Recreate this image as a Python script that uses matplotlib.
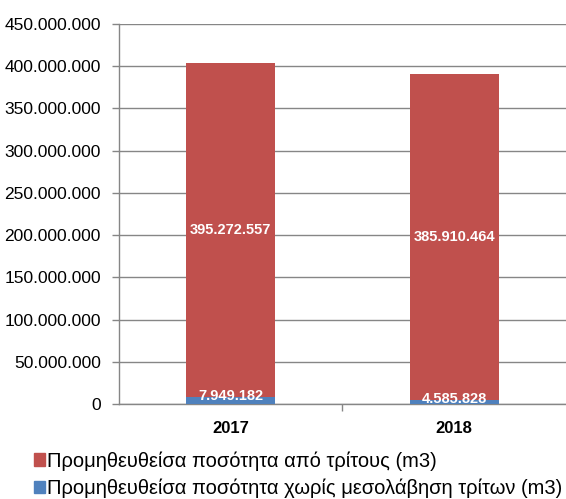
import matplotlib.pyplot as plt
from matplotlib.ticker import FuncFormatter, FixedLocator
from matplotlib.patches import Patch

plt.rcParams['font.family'] = ['Liberation Sans', 'DejaVu Sans']

years = ['2017', '2018']
xoris_mesolavisi = [7949182, 4585828]
apo_tritous = [395272557, 385910464]

label_tritoi = 'Προμηθευθείσα ποσότητα από τρίτους (m3)'
label_xoris = 'Προμηθευθείσα ποσότητα χωρίς μεσολάβηση τρίτων (m3)'

red = '#C0504D'
blue = '#4F81BD'
grid_col = '#868686'

fig = plt.figure(figsize=(5.66, 4.99), dpi=100)
ax = fig.add_axes([0.21, 0.19, 0.79, 0.762])

x = range(len(years))
ax.bar(x, xoris_mesolavisi, width=0.4, color=blue, zorder=3)
ax.bar(x, apo_tritous, width=0.4, bottom=xoris_mesolavisi, color=red, zorder=3)

fmt = lambda v: f'{v:,.0f}'.replace(',', '.')

for i in x:
    ax.annotate(fmt(xoris_mesolavisi[i]), (i, xoris_mesolavisi[i]),
                xytext=(0, -4), textcoords='offset points',
                ha='center', va='bottom', color='white',
                fontsize=10.5, fontweight='bold', zorder=4)
    ax.text(i, xoris_mesolavisi[i] + apo_tritous[i] / 2, fmt(apo_tritous[i]),
            ha='center', va='center', color='white',
            fontsize=10.5, fontweight='bold', zorder=4)

ax.set_ylim(0, 450000000)
ax.set_yticks(range(0, 450000001, 50000000))
ax.yaxis.set_major_formatter(FuncFormatter(lambda v, p: fmt(v)))
ax.set_xlim(-0.5, 1.5)
ax.set_xticks([0, 1])
ax.set_xticklabels(years, fontweight='bold', fontsize=12)
ax.xaxis.set_minor_locator(FixedLocator([0.5]))
ax.tick_params(axis='x', which='major', length=0, pad=12)
ax.tick_params(axis='x', which='minor', length=5, color=grid_col, width=1)
ax.tick_params(axis='y', length=5, color=grid_col, width=1, labelsize=12.5, pad=8)

ax.grid(axis='y', color=grid_col, linewidth=1, zorder=0)
for s in ['top', 'right']:
    ax.spines[s].set_visible(False)
for s in ['left', 'bottom']:
    ax.spines[s].set_color(grid_col)
    ax.spines[s].set_linewidth(1)

handles = [Patch(color=red, label=label_tritoi), Patch(color=blue, label=label_xoris)]
fig.legend(handles=handles, loc='upper left', bbox_to_anchor=(0.06, 0.096),
           frameon=False, fontsize=14.5, handlelength=0.55, handleheight=0.55,
           handletextpad=0.12, labelspacing=0.38, borderaxespad=0, borderpad=0)

fig.savefig('out.png', dpi=100)
